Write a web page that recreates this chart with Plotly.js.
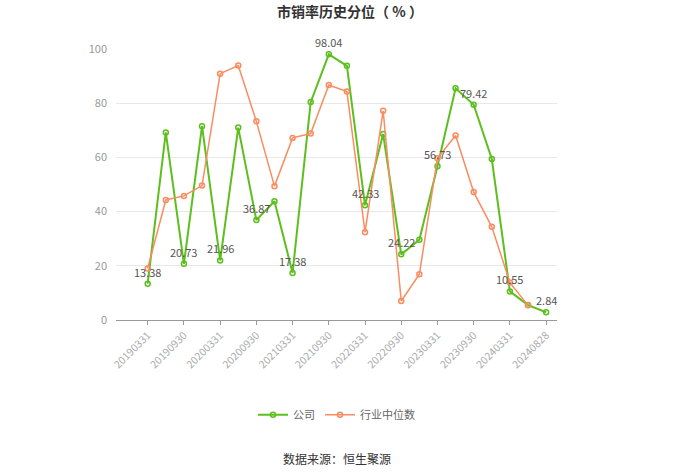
<!DOCTYPE html>
<html><head><meta charset="utf-8">
<script src="https://cdn.plot.ly/plotly-3.0.1.min.js"></script>
<style>body{margin:0;background:#fff}#c{width:700px;height:474px}</style>
</head><body><div id="c"></div>
<script>
var dates = ["20190331","20190630","20190930","20191231","20200331","20200630","20200930","20201231","20210331","20210630","20210930","20211231","20220331","20220630","20220930","20221231","20230331","20230630","20230930","20231231","20240331","20240630","20240828"];
var company = [13.38,69.2,20.73,71.5,21.96,71.0,36.87,43.8,17.38,80.4,98.04,93.8,42.33,68.6,24.22,29.6,56.73,85.5,79.42,59.4,10.55,5.5,2.84];
var industry = [19.0,44.3,45.8,49.6,90.9,93.9,73.3,49.4,67.2,68.8,86.7,84.3,32.4,77.2,7.0,16.9,59.7,68.1,47.2,34.4,13.8,5.4,null];
var labeledIdx = [0,2,4,6,8,10,12,14,16,18,20,22];
var tickIdx = [0,2,4,6,8,10,12,14,16,18,20,22];

var xi = dates.map(function(d,i){return i;});
var green = '#5cbf1e', orange = '#f98c60';
var traces = [
 {x: xi, y: company, name: '公司', mode: 'lines+markers', line:{color:green,width:2},
  marker:{symbol:'circle-open',size:5,color:green,line:{width:1.5}}},
 {x: xi, y: industry, name: '行业中位数', mode: 'lines+markers', line:{color:orange,width:1.5},
  marker:{symbol:'circle-open',size:5,color:orange,line:{width:1.5}}}
];
var ann = labeledIdx.map(function(i){
  return {x:i, y:company[i], text: company[i].toFixed(2), showarrow:false, yshift:12,
    font:{size:11,color:'#555',family:'Noto Sans CJK SC, sans-serif'}};
});
ann.push({xref:'paper',yref:'paper',x:0.5,xanchor:'center',y:-0.51,yanchor:'middle',
  text:'数据来源：恒生聚源',showarrow:false,font:{size:12,color:'#333',family:'Noto Sans CJK SC, sans-serif'}});
var layout = {
  width:700,height:474,
  margin:{l:116,r:143,t:49,b:154},
  paper_bgcolor:'#fff',plot_bgcolor:'#fff',
  font:{family:'Noto Sans CJK SC, sans-serif',color:'#999'},
  title:{text:'<b>市销率历史分位（ % ）</b>',x:0.5,xanchor:'center',y:0.975,yanchor:'middle',
    font:{size:14,color:'#333',family:'Noto Sans CJK SC, sans-serif'}},
  xaxis:{range:[-1.75,22.6],tickmode:'array',tickvals:tickIdx,ticktext:tickIdx.map(function(i){return dates[i];}),
    tickangle:-45,tickfont:{size:10.5,color:'#aaa'},showgrid:false,zeroline:false,
    showline:true,linecolor:'#999',linewidth:1,ticks:'outside',ticklen:4,tickcolor:'#999'},
  yaxis:{range:[0,100],tickvals:[0,20,40,60,80,100],tickfont:{size:11,color:'#999'},
    showgrid:true,gridcolor:'#e8e8e8',zeroline:false,showline:false,ticklabelstandoff:8},
  showlegend:true,
  legend:{orientation:'h',x:0.5,xanchor:'center',y:-0.35,yanchor:'middle',font:{size:11,color:'#666'}},
  annotations:ann
};
Plotly.newPlot('c',traces,layout,{displayModeBar:false});
</script></body></html>
